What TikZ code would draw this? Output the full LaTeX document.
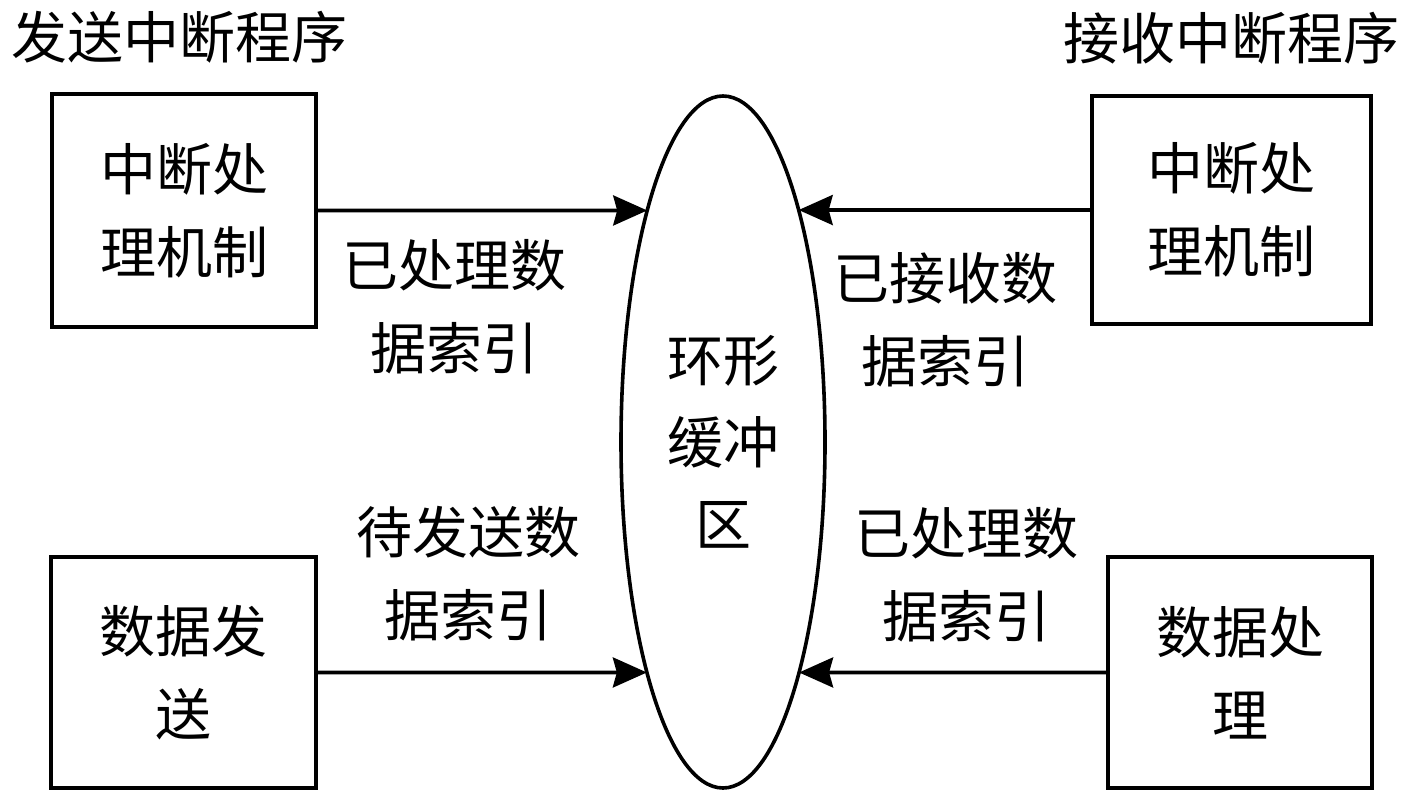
\documentclass[tikz,border=0pt]{standalone}
\usepackage{fontspec}
\setmainfont{Noto Sans CJK SC}
\usetikzlibrary{shapes.geometric,arrows.meta,intersections}
\begin{document}
\begin{tikzpicture}[x=0.5pt,y=-0.5pt,
  txt/.style={inner sep=0pt,align=center,font=\fontsize{28pt}{41.5pt}\selectfont},
  box/.style={txt,draw,line width=1.8pt,line join=miter},
  arr/.style={line width=1.8pt,-{Stealth[length=17pt,width=15pt,inset=2pt]}}]
\useasboundingbox (0,0) rectangle (1417,798);
% titles
\node[txt] (t1) at (179,37) {发送中断程序};
\node[txt] (t2) at (1231,38) {接收中断程序};
% boxes
\node[box,minimum width=132pt,minimum height=116.5pt] (tl) at (184,210.5) {中断处\\理机制};
\node[box,minimum width=132.5pt,minimum height=115.5pt] (bl) at (183.5,672.5) {数据发\\送};
\node[box,minimum width=139.5pt,minimum height=114pt] (tr) at (1231.5,210) {中断处\\理机制};
\node[box,minimum width=132pt,minimum height=115.5pt] (br) at (1240,672.5) {数据处\\理};
% ring buffer
\node[txt,draw,line width=1.8pt,ellipse,minimum width=102pt,minimum height=346pt,name path=ellp,font=\fontsize{28pt}{41pt}\selectfont] (ell) at (723,442) {环形\\缓冲\\区};
% labels
\node[txt] (l1) at (454,306.5) {已处理数\\据索引};
\node[txt] (l2) at (468,573.5) {待发送数\\据索引};
\node[txt] (l3) at (945,320) {已接收数\\据索引};
\node[txt] (l4) at (966,574.5) {已处理数\\据索引};
% connectors
\path[name path=h1] (tl.east) -- ++(400,0);
\path[name path=h2] (bl.east) -- ++(400,0);
\path[name path=h3] (tr.west) -- ++(-400,0);
\path[name path=h4] (br.west) -- ++(-400,0);
\draw[arr,name intersections={of=h1 and ellp,name=a}] (tl.east) -- (a-1);
\draw[arr,name intersections={of=h2 and ellp,name=b}] (bl.east) -- (b-1);
\draw[arr,name intersections={of=h3 and ellp,name=c}] (tr.west) -- (c-1);
\draw[arr,name intersections={of=h4 and ellp,name=d}] (br.west) -- (d-1);
\end{tikzpicture}
\end{document}
